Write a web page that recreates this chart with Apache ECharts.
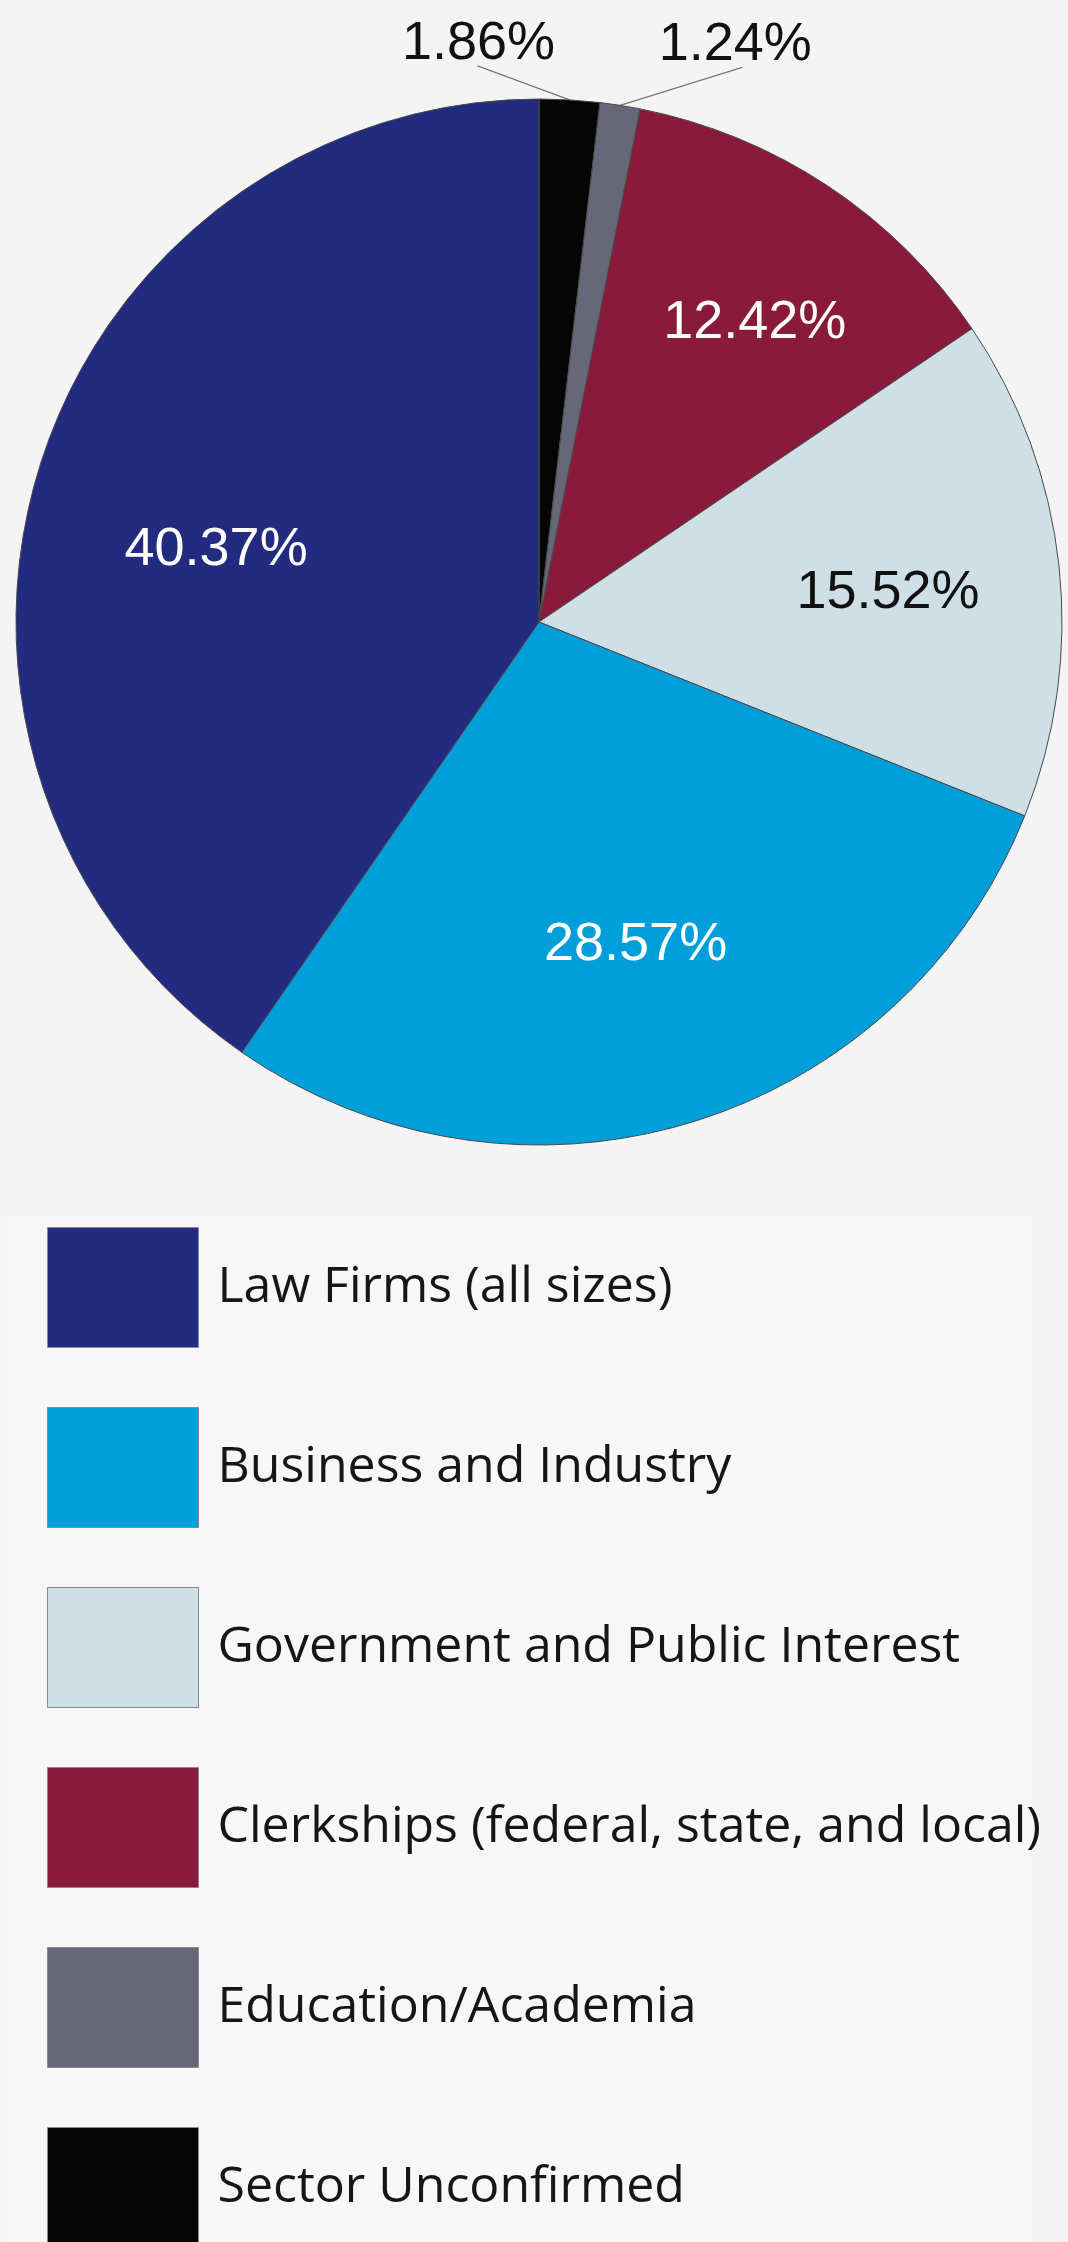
<!DOCTYPE html>
<html>
<head>
<meta charset="utf-8">
<script src="https://cdn.jsdelivr.net/npm/echarts@6/dist/echarts.min.js"></script>
<style>
  html, body { margin: 0; padding: 0; background: #f4f4f4; }
  #chart { width: 1068px; height: 2242px; }
</style>
</head>
<body>
<div id="chart"></div>
<script>
// ---- data ----
const categories = [
  'Sector Unconfirmed',
  'Education/Academia',
  'Clerkships (federal, state, and local)',
  'Government and Public Interest',
  'Business and Industry',
  'Law Firms (all sizes)'
];
const values = [1.86, 1.24, 12.42, 15.52, 28.57, 40.37];
const valueLabels = ['1.86%', '1.24%', '12.42%', '15.52%', '28.57%', '40.37%'];
const legendOrder = [
  'Law Firms (all sizes)',
  'Business and Industry',
  'Government and Public Interest',
  'Clerkships (federal, state, and local)',
  'Education/Academia',
  'Sector Unconfirmed'
];

// ---- styles ----
const colors = ['#050505', '#666779', '#8a1a3b', '#cfdfe6', '#009fda', '#232b80'];
const labelColors = ['#111', '#111', '#ffffff', '#111', '#ffffff', '#ffffff'];
const outsideFlags = [true, true, false, false, false, false];
// inside labels: [radius as fraction of R, angle shift in degrees (clockwise)]
const insidePolar = [null, null, [0.710, 2.0], [0.670, 1.0], [0.639, 0], [0.634, -4.2]];
const insideDy = 3;
// outside labels: offset of label centre from the arc anchor point
const outsideOffset = [[-91, -56], [115, -60]];
const outsideLineEnd = [[-1, 22], [7, 22]];

const CX = 539, CY = 622, R = 523;

const chart = echarts.init(document.getElementById('chart'), null, { renderer: 'canvas' });

const data = categories.map((name, i) => ({
  name: name,
  value: values[i],
  itemStyle: { color: colors[i] },
  label: {
    position: outsideFlags[i] ? 'outside' : 'inside',
    color: labelColors[i],
    formatter: () => valueLabels[i]
  },
  labelLine: { show: outsideFlags[i] }
}));

chart.setOption({
  backgroundColor: '#f4f4f4',
  animation: false,
  graphic: [{
    type: 'rect',
    z: -10,
    shape: { x: 7, y: 1217, width: 1025, height: 1030 },
    style: { fill: '#f7f7f7' }
  }],
  legend: {
    orient: 'vertical',
    left: 47,
    top: 1227,
    height: 1200,
    padding: 0,
    data: legendOrder,
    icon: 'rect',
    itemWidth: 151,
    itemHeight: 120,
    itemGap: 59,
    selectedMode: false,
    itemStyle: { borderColor: '#8a8a8a', borderWidth: 1 },
    textStyle: {
      fontFamily: 'Open Sans',
      fontSize: 50,
      color: '#161616',
      padding: [0, 0, 0, 14]
    }
  },
  series: [{
    type: 'pie',
    center: [CX, CY],
    radius: [0, R],
    startAngle: 90,
    clockwise: true,
    avoidLabelOverlap: false,
    silent: true,
    itemStyle: { borderColor: '#4a4a4a', borderWidth: 1 },
    label: {
      show: true,
      fontFamily: 'Liberation Sans, Arial, sans-serif',
      fontSize: 54,
      fontWeight: 'normal'
    },
    labelLine: {
      length: 12,
      length2: 0,
      lineStyle: { color: '#777', width: 1.3 }
    },
    labelLayout: function (p) {
      const i = p.dataIndex;
      const lr = p.labelRect;
      if (outsideFlags[i]) {
        let a = p.labelLinePoints && p.labelLinePoints[0];
        if (!a) {
          const total = values.reduce((s, v) => s + v, 0);
          let cum = 0;
          for (let k = 0; k < i; k++) cum += values[k];
          const mid = (cum + values[i] / 2) / total * 2 * Math.PI;
          a = [CX + R * Math.sin(mid), CY - R * Math.cos(mid)];
        }
        const off = outsideOffset[i];
        const x = a[0] + off[0];
        const y = a[1] + off[1];
        const le = outsideLineEnd[i];
        return {
          x: x, y: y, align: 'center', verticalAlign: 'middle',
          labelLinePoints: [[a[0], a[1]], [x + le[0], y + le[1]]]
        };
      }
      const lx = lr.x + lr.width / 2;
      const ly = lr.y + lr.height / 2;
      const ang = Math.atan2(lx - CX, -(ly - CY)) + insidePolar[i][1] * Math.PI / 180;
      const rr = insidePolar[i][0] * R;
      const tx = CX + rr * Math.sin(ang);
      const ty = CY - rr * Math.cos(ang) + insideDy;
      return { dx: tx - lx, dy: ty - ly };
    },
    data: data
  }]
});
</script>
</body>
</html>
